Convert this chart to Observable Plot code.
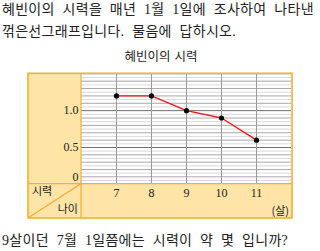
<!DOCTYPE html>
<html><head><meta charset="utf-8">
<script src="https://cdn.jsdelivr.net/npm/d3@7"></script>
<script src="https://cdn.jsdelivr.net/npm/@observablehq/plot@0.6"></script>
<style>
body{margin:0;background:#fff;width:320px;height:251px;overflow:hidden;position:relative;font-family:"Liberation Serif","Noto Sans CJK KR",serif;color:#222}
.t{position:absolute;white-space:nowrap;line-height:1;letter-spacing:0.3px;word-spacing:4px}
#chart{position:absolute;left:0;top:70px}
</style></head><body>
<div class="t" id="l1" style="left:2px;top:3px;font-size:14px;">혜빈이의 시력을 매년 1월 1일에 조사하여 나타낸</div>
<div class="t" id="l2" style="left:2px;top:25px;font-size:14px;">꺾은선그래프입니다. 물음에 답하시오.</div>
<div class="t" id="ttl" style="left:0;width:322px;text-align:center;top:51px;font-size:12.5px;letter-spacing:0;word-spacing:1px">혜빈이의 시력</div>
<div id="chart"></div>
<div class="t" id="q" style="left:2px;top:234px;font-size:14px;">9살이던 7월 1일쯤에는 시력이 약 몇 입니까?</div>
<script>
const ages = [7, 8, 9, 10, 11];
const vision = [1.2, 1.2, 1.0, 0.9, 0.6];
const yTicks = [0, 0.5, 1.0];
const yTickLabels = ["0", "0.5", "1.0"];
const rowLabel = "시력";
const colLabel = "나이";
const unitLabel = "(살)";

const data = ages.map((a, i) => ({age: a, v: vision[i]}));
// grid lines (upper section 0.05 steps, lower compressed section)
const upper = d3.range(0.5, 1.5001, 0.05).map(v => +v.toFixed(3));
const lower = d3.range(-0.0625, 0.5, 0.0625);
const isTenth = v => Math.abs(v*10 - Math.round(v*10)) < 1e-6;
const isEighth = v => Math.abs(v/0.125 - Math.round(v/0.125)) < 1e-6;
const gridMid = upper.filter(isTenth).concat(lower.filter(isEighth)).filter(v => v !== 0.5 && v !== 1.0);
const gridLight = upper.filter(v => !isTenth(v)).concat(lower.filter(v => !isEighth(v)));
const gridMajor = [0.5, 1.0];

const W = 320, H = 152;
const plot = Plot.plot({
  width: W, height: H,
  marginLeft: 81, marginRight: 29, marginTop: 3, marginBottom: 38,
  style: {fontFamily: '"Liberation Serif","Noto Sans CJK KR",serif', fontSize: "12px", color: "#222", background: "transparent"},
  x: {domain: [6, 12], ticks: ages, tickSize: 0, tickPadding: 4, label: null, tickFormat: d => String(d)},
  y: {type: "linear", domain: [0, 0.5, 1.5], range: [106.3, 77, 3.3], ticks: yTicks, tickSize: 0, tickPadding: 3, label: null,
      tickFormat: d => yTickLabels[yTicks.indexOf(d)]},
  marks: [
    Plot.ruleY(gridLight, {stroke: "#d9d9d9", strokeWidth: 1}),
    Plot.ruleY(gridMid, {stroke: "#a8a8a8", strokeWidth: 1}),
    Plot.ruleY(gridMajor, {stroke: "#707070", strokeWidth: 1}),
    Plot.ruleX(ages, {stroke: "#9a9a9a", strokeWidth: 1, y1: -0.125, y2: 1.5}),
    Plot.line(data, {x: "age", y: "v", stroke: "#f01818", strokeWidth: 1.4}),
    Plot.dot(data, {x: "age", y: "v", r: 2.6, fill: "#000", stroke: "none"})
  ]
});
document.getElementById("chart").appendChild(plot);

// table-style frame around the chart
const xs = plot.scale("x"), ys = plot.scale("y");
const fLeft = 28, xL = xs.apply(6), fRight = xs.apply(12) + 1;
const fTop = ys.apply(1.5), yB = ys.apply(-0.125), fBottom = H - 4;
const svg = d3.select(plot);
const orange = "#f6ae35", fillC = "#fee5a7";
const bg = svg.insert("g", ":first-child");
bg.append("rect").attr("x", fLeft).attr("y", fTop).attr("width", xL - fLeft).attr("height", fBottom - fTop).attr("fill", fillC);
bg.append("rect").attr("x", fLeft).attr("y", yB).attr("width", fRight - fLeft).attr("height", fBottom - yB).attr("fill", fillC);
const fg = svg.append("g").attr("fill", "none").attr("stroke", orange);
fg.append("rect").attr("x", fLeft).attr("y", fTop).attr("width", fRight - fLeft).attr("height", fBottom - fTop).attr("stroke-width", 1.6);
fg.append("line").attr("x1", xL).attr("x2", xL).attr("y1", fTop).attr("y2", fBottom).attr("stroke-width", 1.2);
fg.append("line").attr("x1", fLeft).attr("x2", fRight).attr("y1", yB).attr("y2", yB).attr("stroke-width", 1.2);
fg.append("line").attr("x1", fLeft).attr("x2", xL).attr("y1", fBottom).attr("y2", yB).attr("stroke-width", 1.2);
const tg = svg.append("g").attr("font-family", '"Noto Sans CJK KR",sans-serif').attr("font-size", 11).attr("fill", "#222");
tg.append("text").attr("x", fLeft + 4).attr("y", yB + 11).attr("text-anchor", "start").text(rowLabel);
tg.append("text").attr("x", xL - 3).attr("y", fBottom - 5).attr("text-anchor", "end").text(colLabel);
tg.append("text").attr("x", fRight - 3).attr("y", fBottom - 3).attr("text-anchor", "end").attr("font-size", 11).text(unitLabel);
</script>
</body></html>
